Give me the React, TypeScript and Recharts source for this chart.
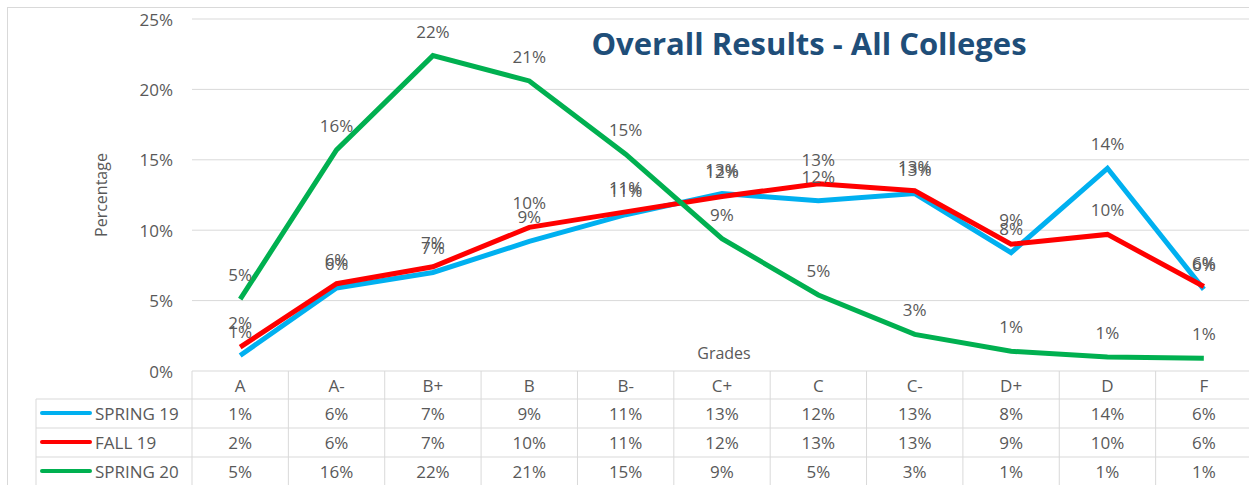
import React from 'react';
import { LineChart, Line, XAxis, YAxis, CartesianGrid, LabelList } from 'recharts';

const grades = ['A', 'A-', 'B+', 'B', 'B-', 'C+', 'C', 'C-', 'D+', 'D', 'F'];
const spring19 = [1.1, 5.9, 7.0, 9.2, 11.1, 12.6, 12.1, 12.6, 8.4, 14.4, 5.8];
const fall19 = [1.7, 6.2, 7.4, 10.2, 11.3, 12.4, 13.3, 12.8, 9.0, 9.7, 6.0];
const spring20 = [5.1, 15.7, 22.4, 20.6, 15.4, 9.4, 5.4, 2.6, 1.4, 1.0, 0.9];
const seriesNames = ['SPRING 19', 'FALL 19', 'SPRING 20'];
const seriesKeys = ['s19', 'f19', 's20'];
const seriesColors = ['#00B0F0', '#FF0000', '#00B050'];
const seriesValues = [spring19, fall19, spring20];
const yTicks = [0, 5, 10, 15, 20, 25];
const titleText = 'Overall Results - All Colleges';
const yTitle = 'Percentage';
const xTitle = 'Grades';

const data = grades.map((g, i) => ({ grade: g, s19: spring19[i], f19: fall19[i], s20: spring20[i] }));

const W = 1252;
const H = 485;
const PLOT_LEFT = 192;
const PLOT_TOP = 19;
const TABLE_TOP = 371;
const ROW_LINES = [399, 428, 457, 486];
const ROW_CENTERS = [385, 413, 442, 471];
const LEGEND_LEFT = 36;
const PLOT_W = W - PLOT_LEFT;
const FONT = '"Open Sans", sans-serif';
const TXT = '#595959';
const GRID = '#d9d9d9';
const FS = 17;

const fmt = (v: number) => `${Math.round(v)}%`;

const GradeTick = (props: any) => {
  const { x, payload, index } = props;
  const colW = PLOT_W / grades.length;
  const left = x - colW / 2;
  const right = x + colW / 2;
  const els: any[] = [];
  els.push(<line key="vl" x1={left} x2={left} y1={TABLE_TOP} y2={H + 5} stroke={GRID} strokeWidth={1} />);
  if (index === grades.length - 1) {
    els.push(<line key="vr" x1={right} x2={right} y1={TABLE_TOP} y2={H + 5} stroke={GRID} strokeWidth={1} />);
  }
  ROW_LINES.forEach((ry, k) => {
    els.push(<line key={'h' + k} x1={left} x2={right} y1={ry} y2={ry} stroke={GRID} strokeWidth={1} />);
  });
  els.push(
    <text key="cat" x={x} y={ROW_CENTERS[0]} textAnchor="middle" dominantBaseline="central" fontSize={FS} fill={TXT} fontFamily={FONT}>
      {payload.value}
    </text>
  );
  seriesValues.forEach((vals, r) => {
    els.push(
      <text key={'v' + r} x={x} y={ROW_CENTERS[r + 1]} textAnchor="middle" dominantBaseline="central" fontSize={FS} fill={TXT} fontFamily={FONT}>
        {fmt(vals[index])}
      </text>
    );
  });
  if (index === 0) {
    els.push(<line key="lv" x1={LEGEND_LEFT} x2={LEGEND_LEFT} y1={ROW_LINES[0]} y2={H + 5} stroke={GRID} strokeWidth={1} />);
    ROW_LINES.forEach((ry, k) => {
      els.push(<line key={'lh' + k} x1={LEGEND_LEFT} x2={left} y1={ry} y2={ry} stroke={GRID} strokeWidth={1} />);
    });
    seriesNames.forEach((n, r) => {
      const cy = ROW_CENTERS[r + 1];
      els.push(<line key={'sw' + r} x1={42} x2={90} y1={cy} y2={cy} stroke={seriesColors[r]} strokeWidth={4} strokeLinecap="round" />);
      els.push(
        <text key={'ln' + r} x={95} y={cy} dominantBaseline="central" fontSize={FS} fill={TXT} fontFamily={FONT}>
          {n}
        </text>
      );
    });
  }
  return <g>{els}</g>;
};

const YTick = (props: any) => {
  const { y, payload } = props;
  return (
    <text x={173} y={y} textAnchor="end" dominantBaseline="central" fontSize={FS} fill={TXT} fontFamily={FONT}>
      {`${payload.value}%`}
    </text>
  );
};

export default function App() {
  return (
    <div style={{ position: 'absolute', left: 0, top: 0, width: 1249, height: 485, overflow: 'hidden', background: '#fff' }}>
      <div style={{ position: 'absolute', left: 7, top: 7, width: 1260, height: 500, border: '1px solid #d9d9d9' }} />
      <LineChart width={W} height={H} data={data} margin={{ top: PLOT_TOP, right: 0, bottom: 0, left: 0 }}>
        <CartesianGrid vertical={false} stroke={GRID} />
        <XAxis
          dataKey="grade"
          axisLine={false}
          tickLine={false}
          tickSize={0}
          tickMargin={0}
          padding={{ left: PLOT_W / grades.length / 2, right: PLOT_W / grades.length / 2 }}
          tick={<GradeTick />}
          interval={0}
          height={H - TABLE_TOP}
        />
        <YAxis
          width={PLOT_LEFT}
          domain={[0, 25]}
          ticks={yTicks}
          axisLine={false}
          tickLine={false}
          tick={<YTick />}
          interval={0}
        />
        {seriesKeys.map((k, i) => (
          <Line
            key={k}
            dataKey={k}
            type="linear"
            stroke={seriesColors[i]}
            strokeWidth={5}
            dot={false}
            isAnimationActive={false}
          >
            <LabelList dataKey={k} position="top" offset={18} formatter={(v: any) => fmt(v)} fontSize={FS} fill={TXT} fontFamily={FONT} />
          </Line>
        ))}
      </LineChart>
      <div style={{ position: 'absolute', left: 0, width: 1618, top: 25, textAlign: 'center', fontFamily: FONT, fontWeight: 700, fontSize: 31, color: '#1F4E79', lineHeight: '36px' }}>
        {titleText}
      </div>
      <div style={{ position: 'absolute', left: 724, top: 353, transform: 'translate(-50%, -50%)', fontFamily: FONT, fontSize: 16, color: TXT, whiteSpace: 'nowrap' }}>
        {xTitle}
      </div>
      <div style={{ position: 'absolute', left: 101, top: 195, transform: 'translate(-50%, -50%) rotate(-90deg)', fontFamily: FONT, fontSize: 16, color: TXT, whiteSpace: 'nowrap' }}>
        {yTitle}
      </div>
    </div>
  );
}
